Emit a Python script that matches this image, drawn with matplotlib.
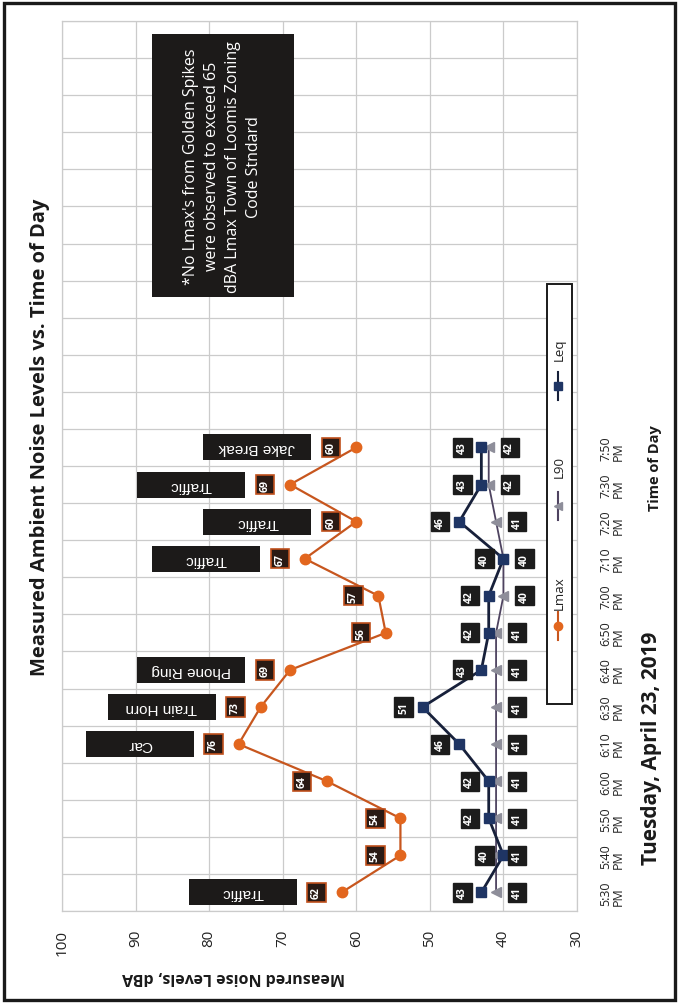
import matplotlib
matplotlib.use("Agg")
import matplotlib.pyplot as plt
from matplotlib.patches import Rectangle
from matplotlib.lines import Line2D

times = ["5:30\nPM", "5:40\nPM", "5:50\nPM", "6:00\nPM", "6:10\nPM", "6:30\nPM", "6:40\nPM",
         "6:50\nPM", "7:00\nPM", "7:10\nPM", "7:20\nPM", "7:30\nPM", "7:50\nPM"]
lmax = [62, 54, 54, 64, 76, 73, 69, 56, 57, 67, 60, 69, 60]
leq = [43, 40, 42, 42, 46, 51, 43, 42, 42, 40, 46, 43, 43]
l90 = [41, 41, 41, 41, 41, 41, 41, 41, 40, 40, 41, 42, 42]
events = ["Traffic", "", "", "", "Car", "Train Horn", "Phone Ring", "", "", "Traffic",
          "Traffic", "Traffic", "Jake Break"]
value_ticks = [100, 90, 80, 70, 60, 50, 40, 30]
n_slots = 24
note = ("*No Lmax's from Golden Spikes\nwere observed to exceed 65\n"
        "dBA Lmax Town of Loomis Zoning\nCode Stndard")

plt.rcParams['font.family'] = ['Open Sans', 'DejaVu Sans']

W, H = 679, 1004
fig = plt.figure(figsize=(W / 100, H / 100), dpi=100)
fig.patch.set_facecolor('white')

# outer frame
fig.patches.append(Rectangle((4 / W, 3 / H), 671 / W, 997 / H, transform=fig.transFigure,
                             fill=False, edgecolor='#1a1a1a', linewidth=2.4))

L, R, T, B = 62, 577, 22, 912
ax = fig.add_axes([L / W, 1 - B / H, (R - L) / W, (B - T) / H])
ax.set_xlim(value_ticks[0], value_ticks[-1])
ax.set_ylim(-0.5, n_slots - 0.5)

ax.set_xticks(value_ticks)
ax.set_xticklabels([str(v) for v in value_ticks], rotation=90, fontsize=11, color='#222222')
ax.set_yticks(range(len(times)))
ax.set_yticklabels(times, rotation=90, fontsize=9, color='#222222', va='center',
                   linespacing=1.0)
ax.yaxis.set_ticks_position('right')
ax.tick_params(axis='x', length=0, pad=13)
ax.tick_params(axis='y', length=0, pad=16)
for lab in ax.get_xticklabels():
    lab.set_va('top')
for lab in ax.get_yticklabels():
    lab.set_ha('left')

ax.set_yticks([i - 0.5 for i in range(n_slots + 1)], minor=True)
ax.tick_params(axis='y', which='minor', length=0)
ax.grid(True, which='major', axis='x', color='#cbcbcb', linewidth=0.9)
ax.grid(True, which='minor', axis='y', color='#cbcbcb', linewidth=0.9)
for s in ax.spines.values():
    s.set_color('#cbcbcb')
    s.set_linewidth(0.9)
ax.set_axisbelow(True)

idx = list(range(len(times)))
c_lmax, c_leq, c_l90 = '#e2661e', '#1f3564', '#8e8e9a'
ax.plot(l90, idx, color='#4e4360', linewidth=1.3, marker='<', markersize=7,
        markerfacecolor=c_l90, markeredgecolor=c_l90, zorder=4)
ax.plot(leq, idx, color='#17203a', linewidth=2.0, marker='s', markersize=7,
        markerfacecolor=c_leq, markeredgecolor=c_leq, zorder=5)
ax.plot(lmax, idx, color='#c7561e', linewidth=1.6, marker='o', markersize=7.5,
        markerfacecolor=c_lmax, markeredgecolor=c_lmax, zorder=5)

fig.canvas.draw()
bb = ax.get_window_extent()
pxdb = bb.width / (value_ticks[0] - value_ticks[-1])
pxcat = bb.height / n_slots

lab_kw = dict(rotation=90, ha='center', va='center', fontsize=7.5, color='white',
              fontweight='bold', zorder=7)
for i, v in enumerate(lmax):
    ax.text(v + 25 / pxdb, i, str(v),
            bbox=dict(boxstyle='square,pad=0.35', facecolor='#2a1a14', edgecolor='#c0501c',
                      linewidth=1.2), **lab_kw)
for i, v in enumerate(leq):
    ax.text(v + 19 / pxdb, i, str(v),
            bbox=dict(boxstyle='square,pad=0.35', facecolor='#1c1c1c', edgecolor='#1c1c1c'),
            **lab_kw)
for i, v in enumerate(l90):
    ax.text(v - 21 / pxdb, i, str(v),
            bbox=dict(boxstyle='square,pad=0.35', facecolor='#1c1c1c', edgecolor='#1c1c1c'),
            **lab_kw)

# event annotation boxes
gap, bw, bh = 45, 108, 26
for i, (v, ev) in enumerate(zip(lmax, events)):
    if not ev:
        continue
    ax.add_patch(Rectangle((v + gap / pxdb, i - bh / 2 / pxcat), bw / pxdb, bh / pxcat,
                           facecolor='#1c1a19', edgecolor='none', zorder=6))
    ax.text(v + (gap + bw / 2) / pxdb, i, ev, rotation=180, ha='center', va='center',
            fontsize=11, color='white', family=['Liberation Sans', 'DejaVu Sans'], zorder=7)

# note box
ax.add_patch(Rectangle((0.174, 0.69), 0.277, 0.295, transform=ax.transAxes,
                       facecolor='#1c1a19', edgecolor='none', zorder=6))
ax.text(0.174 + 0.277 / 2, 0.69 + 0.295 / 2, note, transform=ax.transAxes, rotation=90,
        ha='center', va='center', multialignment='center', fontsize=11.5, color='white',
        linespacing=1.42, zorder=7)

# legend (drawn rotated)
ax.add_patch(Rectangle((0.941, 0.233), 0.049, 0.472, transform=ax.transAxes,
                       facecolor='white', edgecolor='#1a1a1a', linewidth=1.4, zorder=8))
leg_items = [("Lmax", '#c7561e', 'o', c_lmax, 0.32, 0.358),
             ("L90", '#4e4360', '<', c_l90, 0.455, 0.5),
             ("Leq", '#17203a', 's', c_leq, 0.59, 0.632)]
for name, lc, mk, mc, ymid, ytxt in leg_items:
    ax.add_line(Line2D([0.964, 0.964], [ymid - 0.016, ymid + 0.016], transform=ax.transAxes,
                       color=lc, linewidth=1.5, zorder=9))
    ax.plot([0.964], [ymid], transform=ax.transAxes, marker=mk, markersize=6,
            color=mc, zorder=10, clip_on=False)
    ax.text(0.966, ytxt, name, transform=ax.transAxes, rotation=90, ha='center',
            va='center', fontsize=9.5, color='#222222', zorder=10)

fig.text(40 / W, 1 - 437 / H, "Measured Ambient Noise Levels vs. Time of Day", rotation=90,
         ha='center', va='center', fontsize=14.5, fontweight='bold', color='#1a1a1a')
fig.text(652 / W, 1 - 748 / H, "Tuesday, April 23, 2019", rotation=90,
         ha='center', va='center', fontsize=15, fontweight='bold', color='#1a1a1a')
fig.text(655 / W, 1 - 468 / H, "Time of Day", rotation=90,
         ha='center', va='center', fontsize=10.5, fontweight='bold', color='#1a1a1a')
fig.text(234 / W, 1 - 977 / H, "Measured Noise Levels, dBA", rotation=180,
         ha='center', va='center', fontsize=11.5, fontweight='bold', color='#1a1a1a')

fig.savefig("out.png", dpi=100)
